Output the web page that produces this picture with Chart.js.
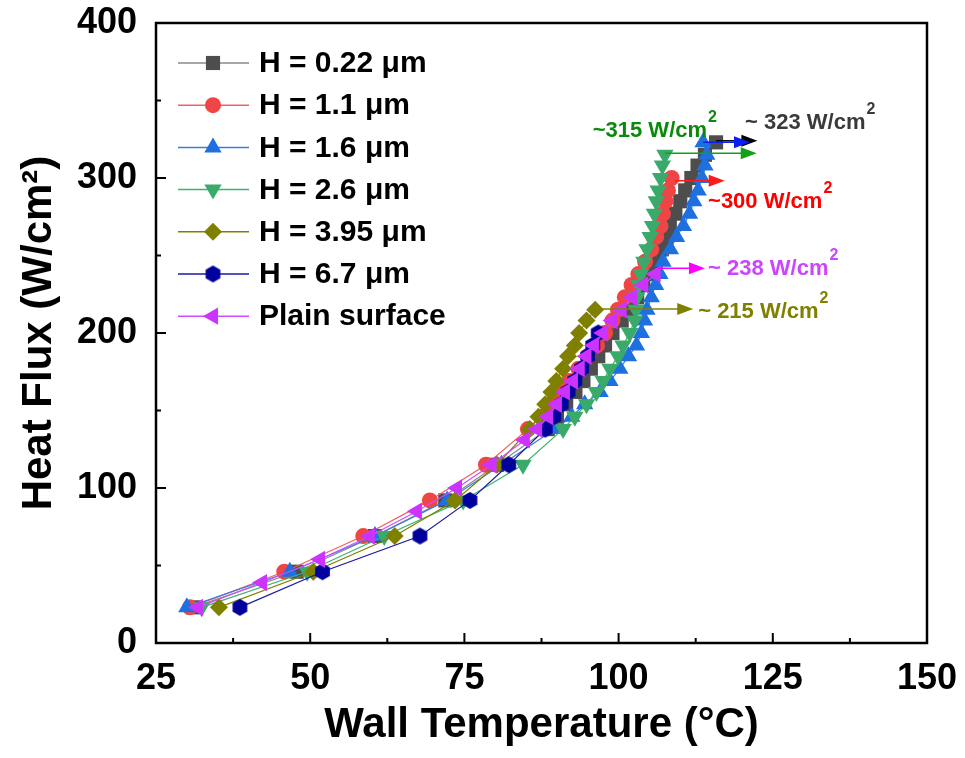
<!DOCTYPE html>
<html>
<head>
<meta charset="utf-8">
<script src="https://cdn.jsdelivr.net/npm/chart.js@4.4.0/dist/chart.umd.min.js"></script>
<style>
    html, body { margin: 0; padding: 0; background: #fff; }
</style>
</head>
<body>
<canvas id="myChart" width="965" height="758"></canvas>
<script>
// axis ticks
const xTicks = [25, 50, 75, 100, 125, 150];
const yTicks = [0, 100, 200, 300, 400];

const seriesNames = ['H = 0.22 μm', 'H = 1.1 μm', 'H = 1.6 μm', 'H = 2.6 μm', 'H = 3.95 μm', 'H = 6.7 μm', 'Plain surface'];

// heat flux steps shared by the structured surfaces (W/cm2)
const fluxSteps = [23, 46, 69, 92, 115, 138, 146, 154, 162, 169, 177, 185, 192, 200, 208, 215,
    223, 231, 238, 246, 254, 262, 269, 277, 285, 292, 300, 308, 315, 323];

// wall temperatures (°C), one per flux step
const tempH022 = [31, 47.8, 60.5, 71.9, 80.3, 88.5, 90, 91.5, 93, 94.3, 95.5, 96.7, 97.8, 99, 100.5, 101.8,
    103, 104, 105, 106, 107, 107.7, 108.3, 109.2, 110, 110.8, 111.8, 112.8, 114, 115.8];
const tempH11 = [30.5, 45.8, 58.6, 69.4, 78.5, 85.3, 87.5, 89, 90.5, 92, 93.5, 95, 96.5, 97.8, 99, 99.9,
    101, 102.1, 103.2, 104.3, 105.3, 106.1, 106.8, 107.2, 107.6, 108.0, 108.6];
const tempH16 = [30, 46.7, 60.5, 72.2, 81, 89.7, 92.4, 94.5, 97, 98.6, 100.2, 101.6, 102.9, 103.7, 104.2, 104.6,
    105.3, 106, 106.7, 107.2, 108.4, 109.4, 110.5, 111.5, 112.2, 112.9, 113.5, 114, 114.3, 113.7];
const tempH26 = [32.4, 49.5, 62, 74.8, 84.5, 91, 92.9, 94.8, 96.4, 97.5, 98.6, 99.9, 100.7, 101.8, 102.6, 102.8,
    103.0, 103.3, 103.6, 104.1, 104.6, 105.1, 105.5, 105.8, 106.1, 106.4, 106.8, 107.1, 107.5];
const tempH395 = [35.2, 50.5, 63.7, 73.5, 80.3, 85.6, 87.0, 88.1, 89.1, 89.9, 91.0, 91.8, 92.9, 93.6, 94.8, 96.2];
const tempH67 = [38.6, 52, 67.8, 75.9, 82.2, 88.1, 89.5, 90.7, 91.8, 92.9, 94, 95, 95.8, 96.7];

// plain surface has its own flux steps
const fluxPlain = [23, 39, 54, 69, 85, 100, 115, 131, 138, 146, 154, 162, 169, 177, 185, 192, 200, 208, 215, 223, 231, 238];
const tempPlain = [31.8, 42.2, 51.6, 59.7, 67.3, 73.8, 79.4, 84.8, 86.8, 88.6, 90, 91.3, 92.6, 93.7, 94.8, 96,
    97.5, 99, 100.5, 102.2, 104, 106];

// CHF annotations
const noteText = ['~ 323 W/cm', '~315 W/cm', '~300 W/cm', '~ 238 W/cm', '~ 215 W/cm'];
const noteX = [120.5, 95.8, 114.5, 114.5, 112.9];
const noteY = [335.5, 330.3, 284.5, 241.3, 213.5];
const noteColor = ['#3a3a3a', '#0a8a0a', '#ff0000', '#cc44ff', '#808000'];

const arrowFrom = [115.8, 113.7, 107.5, 109.1, 106.4, 97.3];
const arrowTo = [122.5, 121.3, 122.4, 117.2, 114.0, 112.1];
const arrowY = [324, 323, 316, 298.3, 241.7, 215.5];
const arrowColor = ['#000000', '#0a1ef0', '#15a015', '#ff1a1a', '#ff00ff', '#808000'];

const FONT = "'Liberation Sans', Arial, sans-serif";

function hexagon(color, r) {
    const c = document.createElement('canvas');
    const s = Math.ceil(r * 2 + 2);
    c.width = s; c.height = s;
    const g = c.getContext('2d');
    g.fillStyle = color;
    g.beginPath();
    for (let i = 0; i < 6; i++) {
        const a = Math.PI / 2 + i * Math.PI / 3;
        const px = s / 2 + r * Math.cos(a), py = s / 2 + r * Math.sin(a);
        if (i === 0) g.moveTo(px, py); else g.lineTo(px, py);
    }
    g.closePath();
    g.fill();
    return c;
}

function pts(xs, ys) {
    return xs.map((x, i) => ({ x: x, y: ys[i] }));
}

const styles = [
    { line: '#8a8a8a', mark: '#4d4d4d', shape: 'rect', rot: 0, r: 10 },
    { line: '#f26060', mark: '#f04545', shape: 'circle', rot: 0, r: 8 },
    { line: '#3a7be0', mark: '#1e6fe0', shape: 'triangle', rot: 0, r: 10 },
    { line: '#3cb371', mark: '#3aaa6b', shape: 'triangle', rot: 180, r: 10 },
    { line: '#808000', mark: '#808000', shape: 'rectRot', rot: 0, r: 9 },
    { line: '#1a1aa0', mark: '#00009c', shape: hexagon('#00009c', 8.5), rot: 0, r: 8 },
    { line: '#d24cff', mark: '#cc33ff', shape: 'triangle', rot: 270, r: 10 }
];

const series = [
    pts(tempH022, fluxSteps),
    pts(tempH11, fluxSteps),
    pts(tempH16, fluxSteps),
    pts(tempH26, fluxSteps),
    pts(tempH395, fluxSteps),
    pts(tempH67, fluxSteps),
    pts(tempPlain, fluxPlain)
];

const datasets = series.map((d, i) => ({
    label: seriesNames[i],
    data: d,
    showLine: true,
    borderColor: styles[i].line,
    borderWidth: 1.2,
    pointStyle: styles[i].shape,
    rotation: styles[i].rot,
    pointRadius: styles[i].r,
    pointBackgroundColor: styles[i].mark,
    pointBorderColor: styles[i].mark,
    pointBorderWidth: 0,
    order: series.length - i   // later series on top, like the original
}));

// frame plus inward tick marks
const framePlugin = {
    id: 'frame',
    afterDatasetsDraw(chart) {
        const { ctx, chartArea: a, scales } = chart;
        ctx.save();
        ctx.strokeStyle = '#000';
        ctx.lineWidth = 2.5;
        ctx.strokeRect(a.left, a.top, a.right - a.left, a.bottom - a.top);
        ctx.lineWidth = 2;
        ctx.beginPath();
        for (let i = 0; i < xTicks.length; i++) {
            const px = scales.x.getPixelForValue(xTicks[i]);
            ctx.moveTo(px, a.bottom); ctx.lineTo(px, a.bottom - 10);
            if (i < xTicks.length - 1) {
                const mx = scales.x.getPixelForValue((xTicks[i] + xTicks[i + 1]) / 2);
                ctx.moveTo(mx, a.bottom); ctx.lineTo(mx, a.bottom - 5);
            }
        }
        for (let i = 0; i < yTicks.length; i++) {
            const py = scales.y.getPixelForValue(yTicks[i]);
            ctx.moveTo(a.left, py); ctx.lineTo(a.left + 10, py);
            if (i < yTicks.length - 1) {
                const my = scales.y.getPixelForValue((yTicks[i] + yTicks[i + 1]) / 2);
                ctx.moveTo(a.left, my); ctx.lineTo(a.left + 5, my);
            }
        }
        ctx.stroke();
        ctx.restore();
    }
};

// arrows and CHF labels
const notePlugin = {
    id: 'notes',
    afterDatasetsDraw(chart) {
        const { ctx, scales } = chart;
        ctx.save();
        for (let i = 0; i < arrowY.length; i++) {
            const x0 = scales.x.getPixelForValue(arrowFrom[i]);
            const x1 = scales.x.getPixelForValue(arrowTo[i]);
            const y = scales.y.getPixelForValue(arrowY[i]);
            ctx.strokeStyle = arrowColor[i];
            ctx.fillStyle = arrowColor[i];
            ctx.lineWidth = 1.5;
            ctx.beginPath();
            ctx.moveTo(x0, y); ctx.lineTo(x1 - 10, y);
            ctx.stroke();
            ctx.beginPath();
            ctx.moveTo(x1, y);
            ctx.lineTo(x1 - 16, y - 6);
            ctx.lineTo(x1 - 16, y + 6);
            ctx.closePath();
            ctx.fill();
        }
        ctx.textBaseline = 'middle';
        ctx.textAlign = 'left';
        for (let i = 0; i < noteText.length; i++) {
            const x = scales.x.getPixelForValue(noteX[i]);
            const y = scales.y.getPixelForValue(noteY[i]);
            ctx.fillStyle = noteColor[i];
            ctx.font = 'bold 22px ' + FONT;
            ctx.fillText(noteText[i], x, y);
            const w = ctx.measureText(noteText[i]).width;
            ctx.font = 'bold 16px ' + FONT;
            ctx.fillText('2', x + w + 1, y - 13);
        }
        ctx.restore();
    }
};

// legend inside the plot, line with marker in the middle
const legendPlugin = {
    id: 'boxLegend',
    afterDraw(chart) {
        const { ctx, chartArea: a } = chart;
        ctx.save();
        ctx.textBaseline = 'middle';
        ctx.textAlign = 'left';
        ctx.font = 'bold 30px ' + FONT;
        chart.data.datasets.forEach((ds, i) => {
            const y = a.top + 40 + i * 42.2;
            const x0 = a.left + 22, x1 = a.left + 93, xm = a.left + 57;
            ctx.strokeStyle = styles[i].line;
            ctx.lineWidth = 1.5;
            ctx.beginPath();
            ctx.moveTo(x0, y); ctx.lineTo(x1, y);
            ctx.stroke();
            ctx.fillStyle = styles[i].mark;
            ctx.strokeStyle = styles[i].mark;
            Chart.helpers.drawPoint(ctx, {
                pointStyle: styles[i].shape,
                rotation: styles[i].rot,
                radius: styles[i].r,
                borderWidth: 0
            }, xm, y);
            ctx.fillStyle = '#000';
            ctx.fillText(ds.label, a.left + 103, y + 1);
        });
        ctx.restore();
    }
};

const ctx = document.getElementById('myChart');
new Chart(ctx, {
    type: 'scatter',
    data: { datasets: datasets },
    options: {
        responsive: false,
        animation: false,
        layout: { padding: { top: 23, right: 38, left: 0, bottom: 0 } },
        plugins: {
            legend: { display: false },
            tooltip: { enabled: false }
        },
        scales: {
            x: {
                type: 'linear',
                min: xTicks[0],
                max: xTicks[xTicks.length - 1],
                afterBuildTicks: s => { s.ticks = xTicks.map(v => ({ value: v })); },
                ticks: { color: '#000', padding: 14, font: { family: FONT, size: 36, weight: 'bold' } },
                grid: { display: false, drawTicks: false },
                border: { display: false },
                title: {
                    display: true,
                    text: 'Wall Temperature (°C)',
                    color: '#000',
                    font: { family: FONT, size: 42, weight: 'bold' },
                    padding: { top: 0, bottom: 7 }
                },
                afterFit: s => { s.height = 115; s.paddingLeft = 0; s.paddingRight = 0; }
            },
            y: {
                type: 'linear',
                min: yTicks[0],
                max: yTicks[yTicks.length - 1],
                afterBuildTicks: s => { s.ticks = yTicks.map(v => ({ value: v })); },
                ticks: { color: '#000', padding: 19, font: { family: FONT, size: 36, weight: 'bold' } },
                grid: { display: false, drawTicks: false },
                border: { display: false },
                title: {
                    display: true,
                    text: 'Heat Flux (W/cm²)',
                    color: '#000',
                    font: { family: FONT, size: 42, weight: 'bold' },
                    padding: { top: 14, bottom: 0 }
                },
                afterFit: s => { s.width = 156; s.paddingTop = 0; s.paddingBottom = 0; }
            }
        }
    },
    plugins: [framePlugin, notePlugin, legendPlugin]
});
</script>
</body>
</html>
